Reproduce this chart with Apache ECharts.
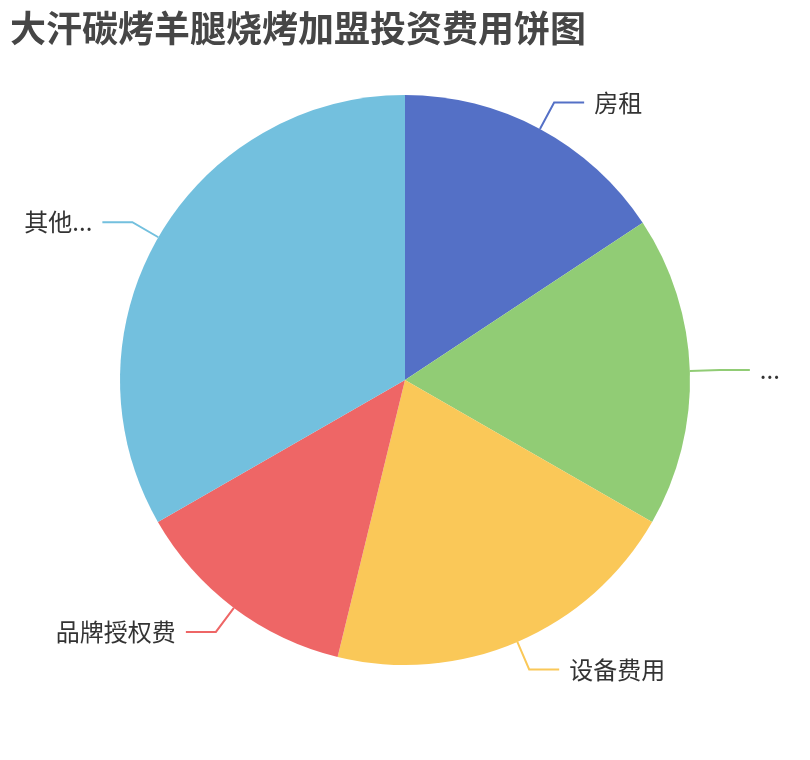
<!DOCTYPE html>
<html>
<head>
<meta charset="utf-8">
<script src="https://cdn.jsdelivr.net/npm/echarts@6/dist/echarts.min.js"></script>
<style>
html,body{margin:0;padding:0;background:#fff;}
#main{width:810px;height:760px;}
</style>
</head>
<body>
<div id="main"></div>
<script>
const titleText = '大汗碳烤羊腿烧烤加盟投资费用饼图';
const categories = ['房租', '装修费用', '设备费用', '品牌授权费', '其他费用'];
const values = [15.7, 17.6, 20.5, 12.9, 33.3];
const colors = ['#5470c6', '#91cc75', '#fac858', '#ee6666', '#73c0de'];

const chart = echarts.init(document.getElementById('main'));
chart.setOption({
  color: colors,
  title: {
    text: titleText,
    left: 0,
    top: 0,
    padding: 10,
    textStyle: { fontSize: 36, fontWeight: 'bold', color: '#464646', fontFamily: 'Noto Sans CJK SC' }
  },
  series: [{
    type: 'pie',
    radius: '75%',
    center: ['50%', '50%'],
    startAngle: 90,
    data: categories.map((c, i) => ({ name: c, value: values[i] })),
    label: {
      fontSize: 24,
      color: '#333',
      fontFamily: 'Noto Sans CJK SC',
      distanceToLabelLine: 10,
      bleedMargin: 20
    },
    labelLine: { length: 30, length2: 30, lineStyle: { width: 2 } },
    emphasis: { disabled: true }
  }]
});
</script>
</body>
</html>
